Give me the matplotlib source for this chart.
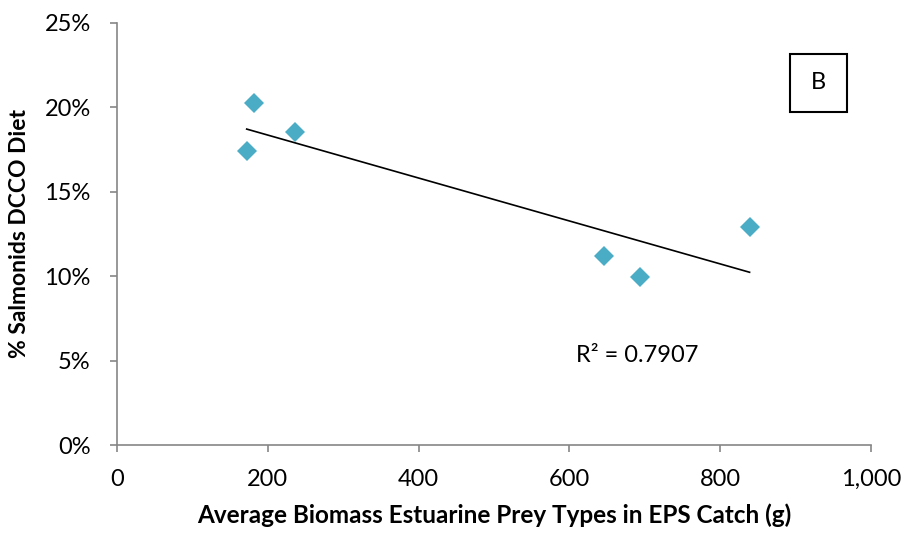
import matplotlib.pyplot as plt
import numpy as np
from matplotlib.ticker import PercentFormatter, FuncFormatter
from matplotlib.patches import Rectangle

plt.rcParams['font.family'] = ['Lato', 'DejaVu Sans']

# biomass (g) vs % salmonids in DCCO diet
biomass = [172, 182, 236, 646, 693, 839]
salmonids = [17.4, 20.25, 18.5, 11.2, 9.92, 12.88]
r2_text = "R² = 0.7907"
panel = "B"

fig = plt.figure(figsize=(9.05, 5.35), dpi=100)
ax = fig.add_axes([0.1293, 0.1682, 0.8331, 0.7894])

ax.plot(biomass, salmonids, 'D', color='#4BACC6', markersize=10, markeredgewidth=0, zorder=3)

# linear trendline
b = np.array(biomass, dtype=float)
k, c = np.polyfit(b, salmonids, 1)
xs = np.array([b.min(), b.max()])
ax.plot(xs, k * xs + c, color='black', lw=1.2, zorder=2)

ax.set_xlim(0, 1000)
ax.set_ylim(0, 25)
ax.set_xticks(np.arange(0, 1001, 200))
ax.set_yticks(np.arange(0, 26, 5))
ax.yaxis.set_major_formatter(PercentFormatter(decimals=0))
ax.xaxis.set_major_formatter(FuncFormatter(lambda v, p: f"{int(v):,}"))

for s in ['top', 'right']:
    ax.spines[s].set_visible(False)
for s in ['left', 'bottom']:
    ax.spines[s].set_color('#868686')
    ax.spines[s].set_linewidth(1.2)
ax.tick_params(colors='#868686', length=5, width=1.2, labelsize=17, labelcolor='black')
ax.tick_params(axis='x', pad=12)
ax.tick_params(axis='y', pad=14)

ax.set_xlabel("Average Biomass Estuarine Prey Types in EPS Catch (g)", fontsize=17.5,
              fontweight='bold', labelpad=10)
ax.set_ylabel("% Salmonids DCCO Diet", fontsize=16.5, fontweight='bold', labelpad=10)

ax.text(690, 5.3, r2_text, fontsize=17, ha='center', va='center')

fig.patches.append(Rectangle((790 / 905, 1 - 111.5 / 535), 57 / 905, 58 / 535,
                             transform=fig.transFigure, fill=False, ec='black', lw=1.5))
fig.text(818.5 / 905, 1 - 82.5 / 535, panel, fontsize=17, ha='center', va='center')

fig.savefig("out.png", dpi=100)
